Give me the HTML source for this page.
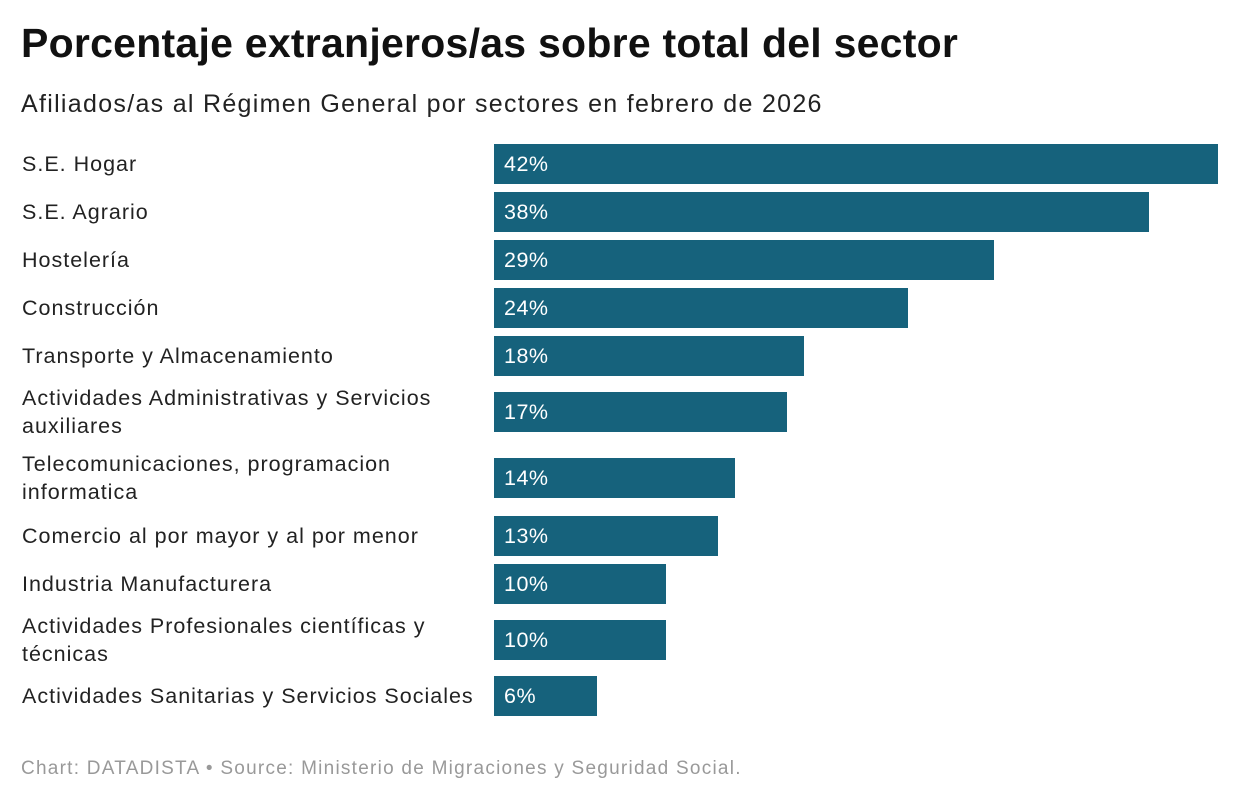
<!DOCTYPE html>
<html><head><meta charset="utf-8">
<style>
body{margin:0;background:#fff;width:1240px;height:804px;overflow:hidden;font-family:"Liberation Sans",sans-serif;color:#111;position:relative;}
#title{position:absolute;left:21px;top:20px;font-size:41px;font-weight:bold;letter-spacing:0.25px;margin:0;white-space:nowrap;}
#sub{position:absolute;left:21px;top:90px;font-size:25px;letter-spacing:1.3px;color:#222;white-space:nowrap;}
#chart{position:absolute;left:0;top:0;width:1240px;height:804px;}
.lab{position:absolute;left:22px;width:490px;font-size:21.5px;letter-spacing:1.0px;line-height:28px;color:#222;white-space:pre-line;}
.bar{position:absolute;left:494px;height:40px;background:#16627c;color:#fff;font-size:21.5px;letter-spacing:0.5px;line-height:40px;padding-left:10px;box-sizing:border-box;}
#foot{position:absolute;left:21px;top:758px;font-size:19px;letter-spacing:1.25px;color:#999;white-space:nowrap;}
</style></head><body>
<h1 id="title">Porcentaje extranjeros/as sobre total del sector</h1>
<div id="sub">Afiliados/as al Régimen General por sectores en febrero de 2026</div>
<div id="chart"></div>
<div id="foot">Chart: DATADISTA • Source: Ministerio de Migraciones y Seguridad Social.</div>
<script>
const categories=["S.E. Hogar","S.E. Agrario","Hostelería","Construcción","Transporte y Almacenamiento","Actividades Administrativas y Servicios\nauxiliares","Telecomunicaciones, programacion\ninformatica","Comercio al por mayor y al por menor","Industria Manufacturera","Actividades Profesionales científicas y\ntécnicas","Actividades Sanitarias y Servicios Sociales"];
const values=[42,38,29,24,18,17,14,13,10,10,6];
const pxPerUnit=724/42;
const x=v=>v*pxPerUnit;
// layout: bar top positions per row
const rowTops=[144,192,240,288,336,392,458,516,564,620,676];
const chart=document.getElementById('chart');
categories.forEach((c,i)=>{
  const two=c.indexOf('\n')>=0;
  const lab=document.createElement('div');
  lab.className='lab';
  lab.textContent=c;
  lab.style.top=(rowTops[i]+20-(two?28:14))+'px';
  
  
  const bar=document.createElement('div');
  bar.className='bar';
  bar.style.top=rowTops[i]+'px';
  bar.style.width=x(values[i])+'px';
  bar.textContent=values[i]+'%';
  
  
  chart.appendChild(lab);chart.appendChild(bar);
});
</script>
</body></html>
